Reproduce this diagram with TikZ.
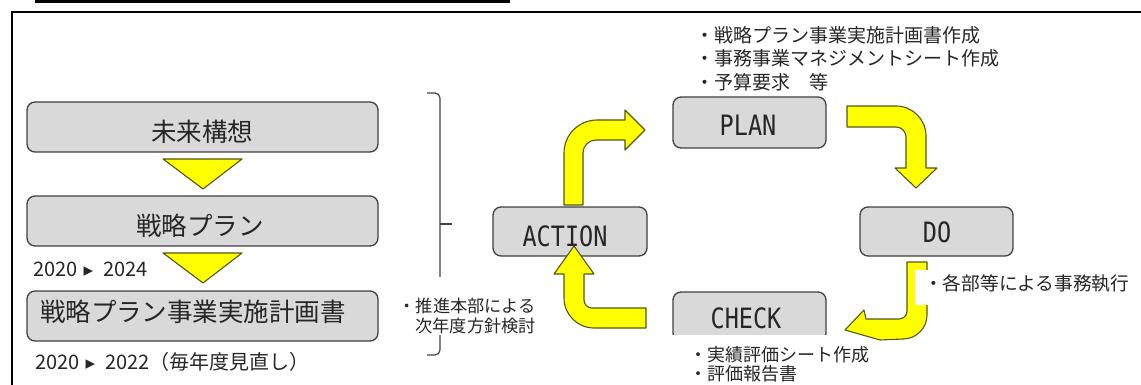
\documentclass[tikz,border=0pt]{standalone}
\usepackage{fontspec}
\setmainfont{Noto Sans CJK JP}
\newfontfamily\dvfont{DejaVu Sans}
\newfontfamily\monof[FakeStretch=0.84]{DejaVu Sans Mono}
\definecolor{boxfill}{HTML}{D9D9D9}
\definecolor{boxline}{HTML}{404040}
\definecolor{arrfill}{HTML}{FFFF00}
\definecolor{arrline}{HTML}{55551A}
\definecolor{txt}{HTML}{262626}
\begin{document}
\begin{tikzpicture}[x=1pt,y=-1pt,
  box/.style={draw=boxline, fill=boxfill, line width=1.3pt, rounded corners=8pt, inner sep=0pt},
  arrowshape/.style={draw=arrline, fill=arrfill, line width=1.1pt, line join=round},
  jtext/.style={inner sep=0pt, text=txt},
  boxlabel/.style={jtext, font=\fontsize{25.5pt}{30pt}\selectfont},
  yearlabel/.style={jtext, anchor=west, font=\fontsize{20pt}{24pt}\selectfont},
  pdcalabel/.style={jtext, font=\monof\fontsize{28pt}{30pt}\selectfont},
  bracketline/.style={draw=boxline, line width=1.2pt, rounded corners=5pt},
  cover/.style={fill=white, draw=none}
]
\useasboundingbox (0,0) rectangle (1141,385);
\clip (0,0) rectangle (1141,385);

% top bar and frame
\fill[black] (35,0) rectangle (510,3);
\draw[line width=2pt, black] (12,400) -- (12,12) -- (1160,12);

% left column
\node[box, minimum width=351pt, minimum height=50pt] (mirai) at (202.5,127) {};
\node[boxlabel] (miraiT) at (202,132) {未来構想};
\draw[arrowshape] (163,159) -- (242,159) -- (203,189) -- cycle;
\node[box, minimum width=351pt, minimum height=50pt] (plan5) at (202.5,221) {};
\node[boxlabel] (plan5T) at (200,226) {戦略プラン};
\draw[arrowshape] (163,253) -- (242,253) -- (203,283) -- cycle;
\node[yearlabel] (y1) at (33,269) {2020\hspace{6pt}{\dvfont\fontsize{19pt}{20pt}\selectfont ▸}\hspace{10pt}2024};
\node[box, minimum width=351pt, minimum height=50pt] (jigyo) at (202.5,316) {};
\node[boxlabel] (jigyoT) at (193,312) {戦略プラン事業実施計画書};
\node[yearlabel] (y2) at (35,362) {2020\hspace{6pt}{\dvfont\fontsize{19pt}{20pt}\selectfont ▸}\hspace{10pt}2022（毎年度見直し）};

% bracket
\draw[bracketline] (427,93) -- (440,93) -- (440,355) -- (427,355);
\draw[bracketline] (440,224) -- (452,224);
\fill[cover] (392,277) rectangle (540,335);
\node[jtext, anchor=east, align=right, font=\fontsize{17.2pt}{20pt}\selectfont] (suishin) at (536,316) {・推進本部による\\次年度方針検討};

% PDCA boxes
\node[box, minimum width=153pt, minimum height=51pt] (plan) at (749.5,122.5) {};
\node[pdcalabel] (planT) at (748,125) {PLAN};
\node[box, minimum width=153pt, minimum height=49pt] (do) at (936.5,231.5) {};
\node[pdcalabel] (doT) at (937,232) {DO};
\node[box, minimum width=154pt, minimum height=49pt] (action) at (570,231.5) {};
\node[pdcalabel] (actionT) at (565,236) {ACTION};
\node[box, minimum width=153pt, minimum height=49pt] (check) at (749.5,316.5) {};
\node[pdcalabel] (checkT) at (746,318) {CHECK};

% arrows
% ACTION -> PLAN
\draw[arrowshape] (564,205) -- (564,153) arc[start angle=180,end angle=270,radius=33]
  -- (625,120) -- (625,110) -- (645,130) -- (625,150) -- (625,140) -- (596,140)
  arc[start angle=270,end angle=180,radius=13] -- (583,205) -- cycle;
% PLAN -> DO
\draw[arrowshape] (847,106) -- (896,106) arc[start angle=270,end angle=360,radius=30]
  -- (926,168) -- (937,168) -- (916,188) -- (895,168) -- (906,168) -- (906,137)
  arc[start angle=0,end angle=-90,radius=10] -- (847,127) -- cycle;
% DO -> CHECK
\draw[arrowshape] (907,262) -- (927,262) -- (927,315) arc[start angle=0,end angle=90,radius=24]
  -- (880,340) -- (845,330) -- (864,310) -- (866,319) -- (899,319)
  arc[start angle=90,end angle=0,radius=8] -- cycle;
% CHECK -> ACTION
\draw[arrowshape] (574,246) -- (594,274) -- (584,274) -- (584,300)
  arc[start angle=180,end angle=90,radius=8] -- (646,308) -- (646,328) -- (594,328)
  arc[start angle=90,end angle=180,radius=30] -- (564,274) -- (554,274) -- cycle;

% covers and notes
\fill[cover] (915,270) rectangle (1141,305);
\node[jtext, anchor=west, font=\fontsize{18.7pt}{22pt}\selectfont] (shikko) at (924,283) {・各部等による事務執行};
\fill[cover] (666,335) rectangle (838,385);
\node[jtext, anchor=west, align=left, font=\fontsize{18pt}{18.8pt}\selectfont] (checknote) at (689,364) {・実績評価シート作成\\・評価報告書};
\node[jtext, anchor=west, align=left, font=\fontsize{19pt}{23.5pt}\selectfont] (plannote) at (695,58.5) {・戦略プラン事業実施計画書作成\\・事務事業マネジメントシート作成\\・予算要求　等};
\end{tikzpicture}
\end{document}
